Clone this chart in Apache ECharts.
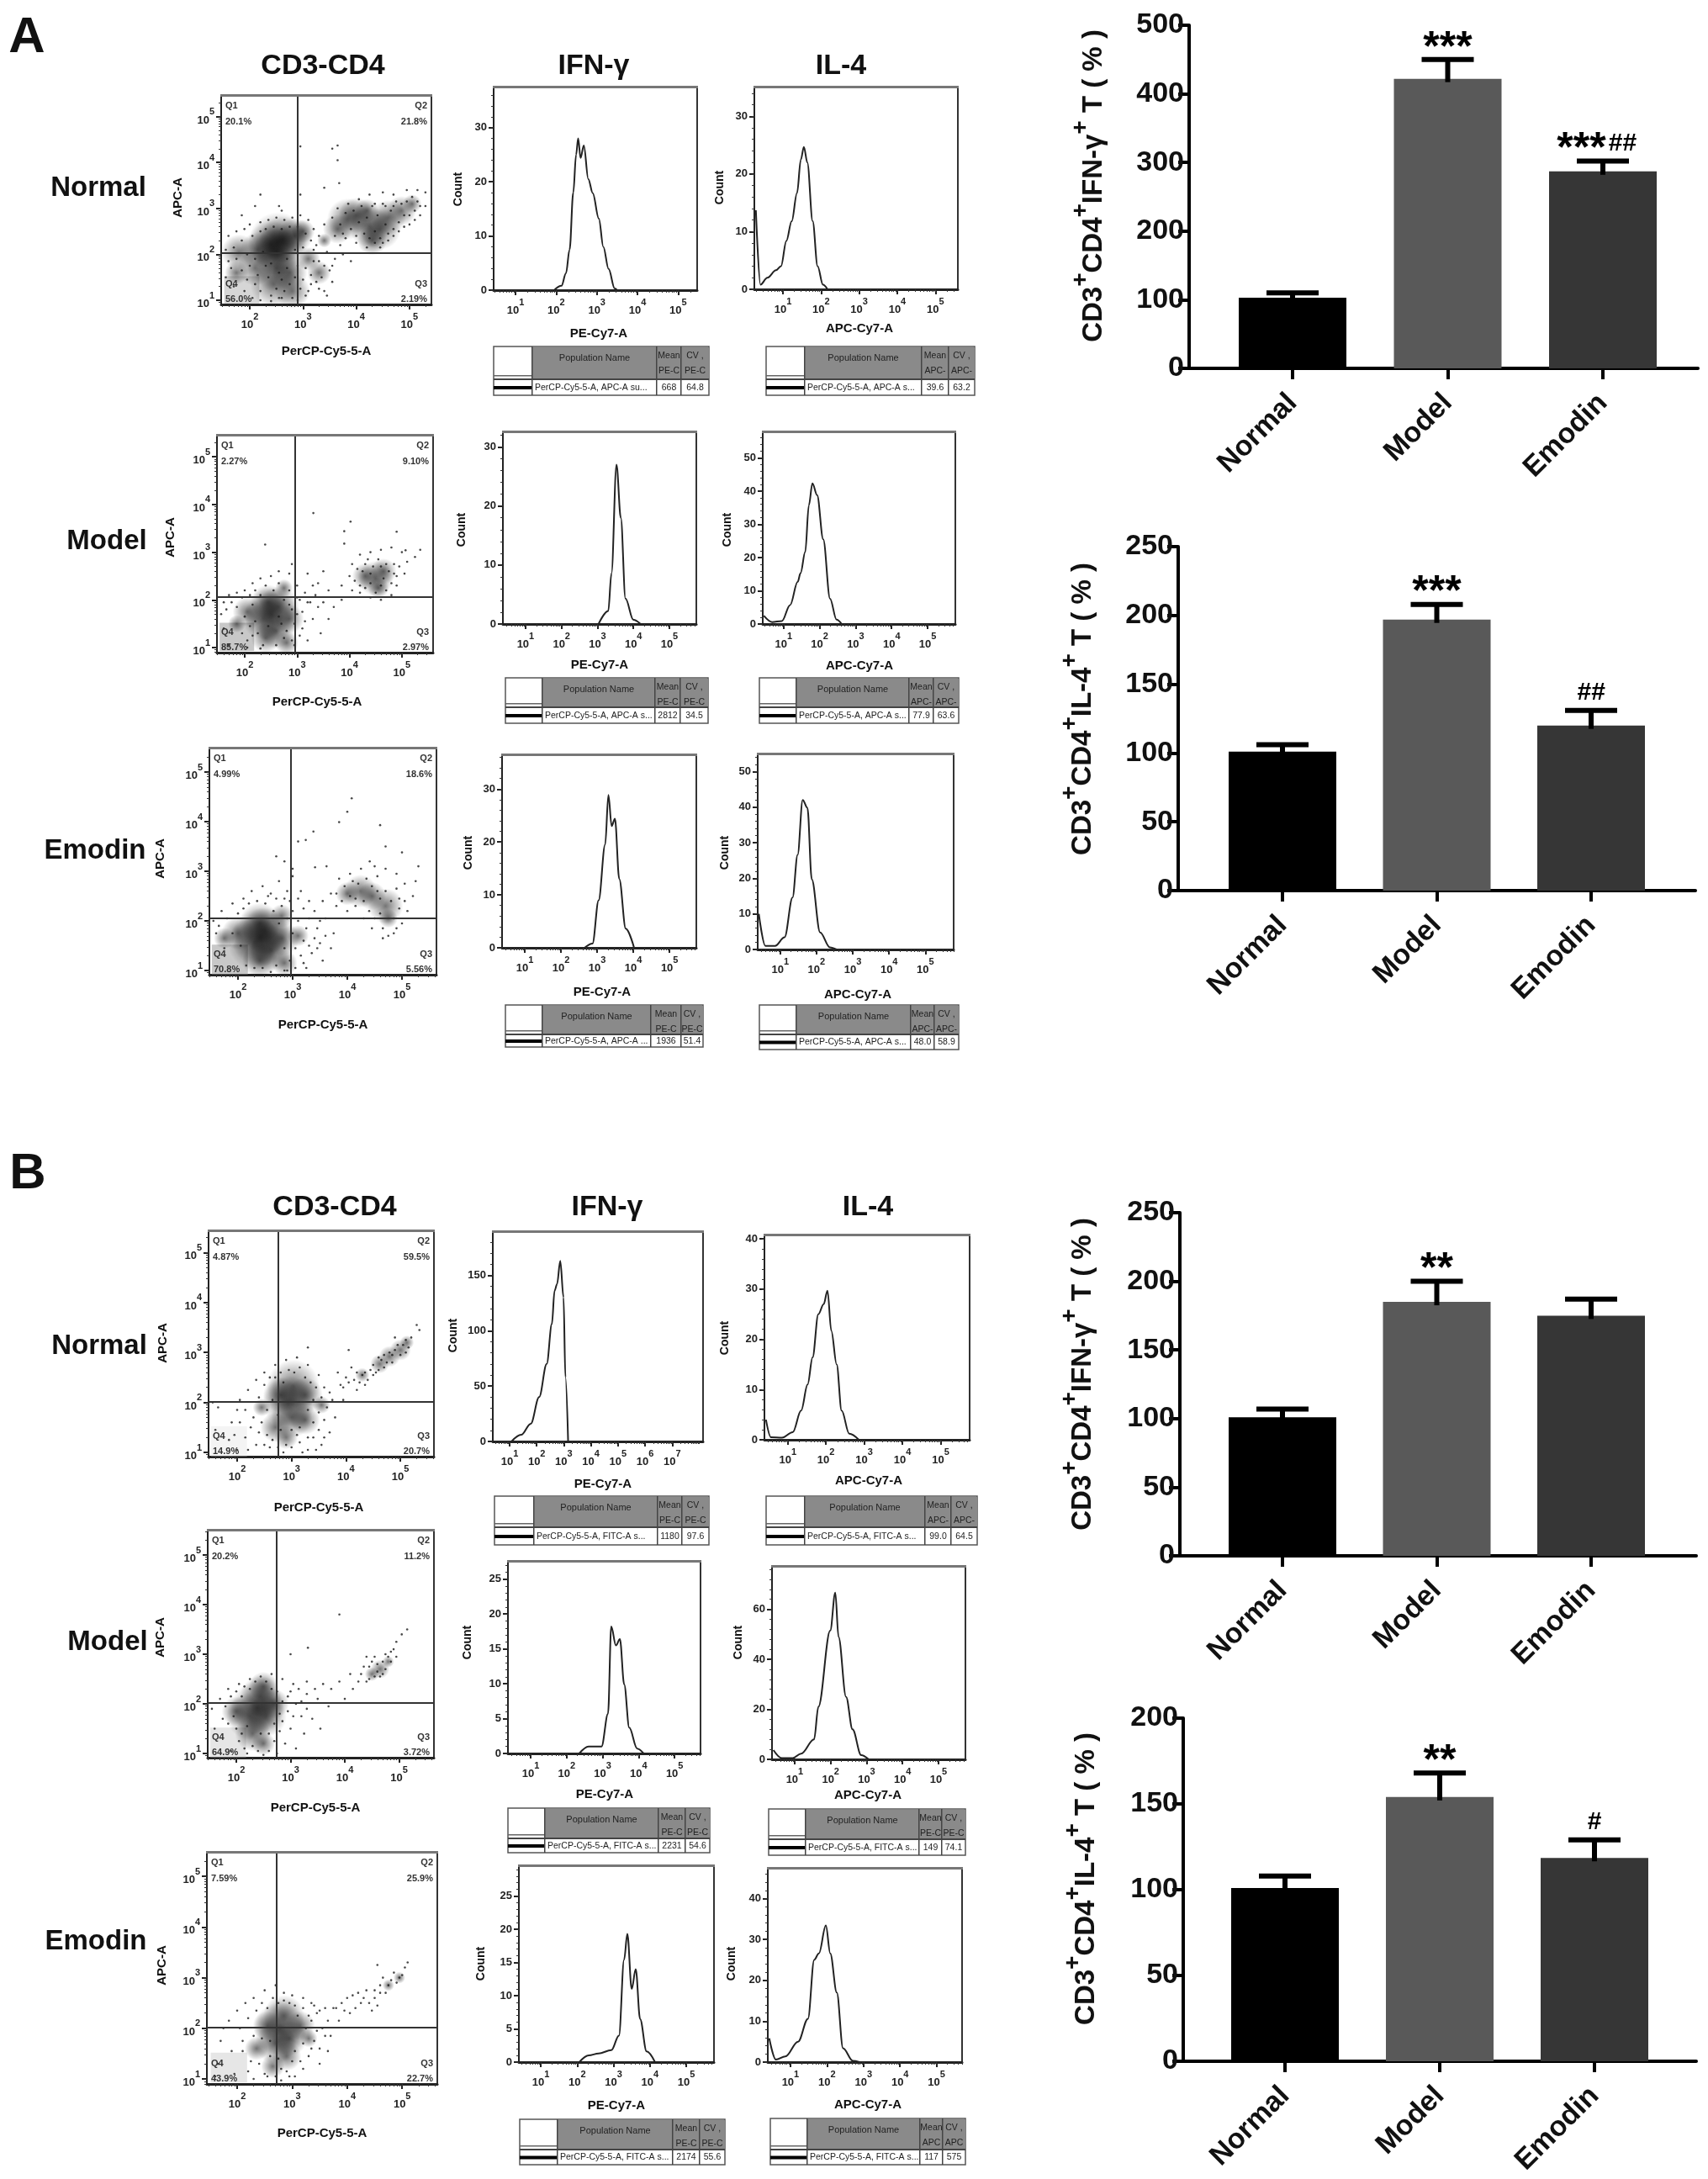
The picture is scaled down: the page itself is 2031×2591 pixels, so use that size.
<!DOCTYPE html>
<html>
<head>
<meta charset="utf-8">
<title>Emodin flow cytometry</title>
<script src="https://cdn.jsdelivr.net/npm/echarts@6/dist/echarts.min.js"></script>
<style>
html, body { margin: 0; padding: 0; background: #fff; }
#main { width: 2031px; height: 2591px; }
#main canvas { filter: blur(.5px); }
</style>
</head>
<body>
<div id="main"></div>
<script>
var FONT = '"Liberation Sans", Arial, sans-serif';

// ---- bar charts ----
var barCats = ['Normal', 'Model', 'Emodin'];
var barColors = ['#000000', '#595959', '#363636'];
var a1Means = [103, 422, 287];
var a1Tops = [110, 450, 302];
var a2Means = [101, 197, 120];
var a2Tops = [106, 208, 131];
var b1Means = [101, 185, 175];
var b1Tops = [107, 200, 187];
var b2Means = [101, 154, 118.5];
var b2Tops = [108, 168, 129];
var a1Stars = ['', '***', '***'];
var a1Hash = ['', '', '##'];
var a2Stars = ['', '***', ''];
var a2Hash = ['', '', '##'];
var b1Stars = ['', '**', ''];
var b1Hash = ['', '', ''];
var b2Stars = ['', '**', ''];
var b2Hash = ['', '', '#'];

// ---- dot plots: x and y in log10 decades ----
// cells = rough density [x, y, weight], dots = single events
var aNormalCells = [[2.53,2.28,5],[2.4,2.22,4],[2.62,2.32,4],[2.5,2.05,4],[2.15,2.1,3],[2.85,2.4,3],[1.8,2.05,3],[2.5,1.7,4],[2.45,1.35,4],[2.75,1.6,3],[2.8,1.2,3],[2.1,1.7,3],[1.75,1.6,2],[3.1,1.9,2],[3.3,1.6,2],[3.0,2.5,2],[3.84,2.77,3.5],[3.65,2.55,2.5],[4.0,2.85,3],[4.25,2.6,3.5],[4.45,2.55,3.5],[4.6,2.8,3],[4.85,2.95,2.5],[5.05,3.1,1.6],[4.2,2.95,2],[4.3,2.3,2.5],[3.4,2.3,1.2]];
var aNormalDots = [[1.6,2.4],[1.75,2.5],[1.9,2.55],[2.0,2.65],[2.2,2.7],[2.35,2.75],[2.5,2.8],[2.65,2.75],[2.8,2.8],[2.95,2.85],[3.1,2.75],[3.2,2.55],[3.3,2.4],[1.55,2.1],[1.6,1.85],[1.55,1.5],[1.7,1.3],[1.9,1.2],[2.05,1.05],[2.2,1.0],[2.4,.98],[2.6,1.05],[2.9,1.0],[3.05,1.1],[3.15,1.35],[3.3,1.25],[3.45,1.1],[3.55,1.4],[3.4,1.75],[3.6,1.9],[3.75,2.0],[3.9,1.85],[3.2,2.1],[3.45,2.05],[2.95,4.35],[3.55,4.3],[3.65,4.37],[3.65,4.05],[3.68,3.55],[3.4,3.45],[2.2,3.3],[2.1,3.05],[1.85,2.85],[2.55,3.05],[2.6,2.95],[2.95,3.3],[3.4,2.65],[3.55,2.8],[3.65,3.0],[3.85,3.1],[4.05,3.2],[4.25,3.3],[4.5,3.35],[4.7,3.3],[4.95,3.4],[5.15,3.4],[5.3,3.35],[5.3,3.05],[5.2,2.85],[5.0,2.65],[4.8,2.5],[4.6,2.3],[4.45,2.15],[4.2,2.15],[4.0,2.25],[3.8,2.35],[3.7,2.2],[4.7,3.05],[4.35,3.1],[4.95,3.15],[4.55,3.05],[5.1,2.95]];
var aNormalFill = [[1.7,2.15],[1.85,2.3],[1.95,2.0],[2.05,2.4],[2.1,1.9],[2.2,2.5],[2.25,2.05],[2.3,2.55],[2.4,1.8],[2.45,2.6],[2.55,1.6],[2.6,2.55],[2.7,1.9],[2.75,2.6],[2.85,2.1],[2.9,2.6],[3.0,2.15],[3.05,2.45],[3.15,2.3],[3.25,2.2],[1.65,1.7],[1.75,1.9],[1.85,1.65],[1.95,1.45],[2.0,1.75],[2.1,1.35],[2.15,1.55],[2.2,1.2],[2.3,1.75],[2.35,1.5],[2.4,1.1],[2.5,1.25],[2.55,1.05],[2.6,1.45],[2.65,1.2],[2.7,1.7],[2.75,1.35],[2.8,1.05],[2.85,1.5],[2.95,1.25],[2.9,1.75],[3.0,1.45],[3.05,1.7],[3.1,1.2],[3.15,1.55],[3.2,1.85],[3.25,1.4],[3.35,1.5],[3.4,1.2],[3.5,1.65],[3.3,1.85],[3.55,1.75],[3.6,2.4],[3.7,2.65],[3.75,2.45],[3.8,2.9],[3.9,2.55],[3.95,2.95],[4.0,2.4],[4.05,2.7],[4.1,3.05],[4.15,2.45],[4.2,2.8],[4.25,2.35],[4.3,3.05],[4.35,2.5],[4.4,2.85],[4.45,2.35],[4.5,3.1],[4.55,2.65],[4.6,2.45],[4.65,2.95],[4.7,2.55],[4.75,3.15],[4.8,2.7],[4.85,3.1],[4.9,2.85],[5.0,2.85],[5.05,3.25],[5.15,3.15],[5.2,3.05],[5.1,2.75],[4.9,2.6],[4.7,2.4],[4.5,2.25],[4.35,2.25]];
var aModelCells = [[2.5,1.7,4.5],[2.35,1.6,3.5],[2.65,1.85,3.5],[2.45,1.95,3],[2.6,1.35,3],[2.4,1.2,2.5],[2.85,1.6,2.5],[2.05,1.75,2.5],[1.85,1.5,1.5],[2.8,1.1,2],[2.75,2.25,1.5],[4.5,2.45,3],[4.3,2.5,2.2],[4.65,2.6,2.2],[4.55,2.25,1.8]];
var aModelDots = [[1.6,1.95],[1.7,2.1],[1.85,2.15],[2.0,2.2],[2.15,2.35],[2.3,2.45],[2.5,2.5],[2.65,2.6],[2.85,2.55],[2.9,2.75],[3.0,2.3],[3.15,2.15],[3.25,1.95],[3.4,1.85],[3.3,1.6],[3.1,1.4],[3.2,1.15],[3.45,1.3],[3.6,1.6],[3.7,1.85],[3.85,2.0],[3.6,2.2],[3.4,2.35],[3.5,2.6],[3.2,2.55],[1.55,1.7],[1.6,1.4],[1.7,1.05],[2.05,1.0],[2.3,.98],[2.95,1.05],[3.0,1.7],[3.05,2.0],[3.31,3.82],[4.02,3.64],[3.9,3.44],[3.9,3.18],[4.9,3.43],[2.39,3.16],[5.07,3.04],[3.85,2.3],[4.0,2.5],[4.05,2.75],[4.2,2.95],[4.4,3.0],[4.6,3.05],[4.8,3.1],[5.0,3.0],[5.1,2.8],[5.05,2.55],[4.9,2.3],[4.8,2.1],[4.6,2.0],[4.4,2.05],[4.2,2.15],[4.05,2.2],[4.7,2.75],[4.85,2.55],[4.3,2.75],[5.25,2.9],[5.35,3.05]];
var aModelFill = [[1.65,1.8],[1.75,1.95],[1.85,1.85],[1.95,2.05],[2.0,1.65],[2.1,2.1],[2.15,1.9],[2.2,2.2],[2.25,1.3],[2.3,2.1],[2.35,1.05],[2.4,2.3],[2.45,1.45],[2.55,2.2],[2.6,1.05],[2.65,2.35],[2.7,1.5],[2.75,2.0],[2.8,1.35],[2.85,2.2],[2.9,1.8],[2.95,1.5],[3.0,2.05],[3.05,1.25],[3.1,1.75],[3.15,1.55],[3.2,1.95],[2.75,1.2],[2.9,1.15],[2.65,1.65],[2.85,1.9],[3.35,2.1],[3.5,1.95],[3.3,2.3],[2.2,1.55],[2.1,1.45],[1.95,1.3],[2.05,1.15],[2.15,1.25],[4.1,2.4],[4.15,2.65],[4.2,2.3],[4.25,2.6],[4.3,2.25],[4.35,2.85],[4.4,2.35],[4.45,2.7],[4.5,2.15],[4.55,2.85],[4.6,2.3],[4.65,2.45],[4.7,2.2],[4.75,2.6],[4.8,2.35],[4.85,2.75],[4.9,2.5],[4.95,2.7],[4.6,2.7],[4.4,2.55]];
var aEmodinCells = [[2.41,1.67,5],[2.3,1.55,4.5],[2.5,1.8,4],[2.4,1.95,3.5],[2.6,1.4,3.5],[2.4,1.2,3],[2.8,1.65,3],[2.0,1.75,2.8],[1.75,1.65,1.8],[2.85,1.15,2.2],[2.8,2.1,2],[3.1,1.7,1.8],[4.24,2.6,2.8],[4.0,2.55,2],[4.45,2.5,2.4],[4.7,2.3,3],[4.75,2.05,1.6]];
var aEmodinDots = [[1.55,2.0],[1.6,1.75],[1.7,2.2],[1.9,2.35],[2.1,2.45],[2.25,2.6],[2.45,2.7],[2.6,2.55],[2.75,2.8],[2.9,2.6],[3.0,2.9],[3.1,2.45],[3.2,2.25],[3.3,2.05],[3.45,1.85],[3.5,1.55],[3.35,1.35],[3.2,1.15],[3.05,1.05],[2.85,1.0],[2.6,.97],[3.55,1.2],[3.7,1.45],[3.75,1.75],[3.6,2.05],[3.4,2.2],[3.55,2.4],[3.0,3.05],[2.7,3.3],[2.85,3.2],[3.1,3.6],[3.38,3.8],[3.85,3.99],[4.0,4.2],[4.08,4.47],[3.24,3.63],[4.6,3.93],[4.7,3.5],[3.62,3.1],[5.0,3.38],[5.3,3.1],[3.41,3.08],[4.41,3.2],[3.7,2.55],[3.85,2.85],[4.05,2.95],[4.25,3.05],[4.5,3.1],[4.7,3.05],[4.9,2.95],[5.05,2.75],[5.2,2.5],[5.1,2.2],[5.0,1.95],[4.85,1.75],[4.65,1.65],[4.45,1.85],[4.3,2.05],[4.0,2.2],[3.8,2.3],[4.55,2.9],[4.95,2.45],[4.15,2.3],[5.25,2.8]];
var aEmodinFill = [[1.65,1.9],[1.75,1.45],[1.8,2.05],[1.9,1.75],[2.0,2.15],[2.05,1.5],[2.1,2.25],[2.15,1.1],[2.2,2.35],[2.3,1.05],[2.35,2.4],[2.45,1.05],[2.5,2.35],[2.55,2.5],[2.65,2.2],[2.7,2.45],[2.75,1.95],[2.8,2.3],[2.85,1.45],[2.9,2.05],[2.95,1.2],[3.0,2.2],[3.0,1.75],[3.05,1.45],[3.1,2.0],[3.15,1.3],[3.2,1.6],[3.25,1.85],[3.3,1.5],[2.85,2.45],[2.7,1.1],[2.9,1.0],[3.4,1.65],[3.5,2.0],[3.15,2.6],[3.3,2.4],[2.95,2.4],[3.6,1.7],[3.45,1.45],[3.25,1.05],[3.8,2.55],[3.9,2.4],[3.95,2.7],[4.05,2.5],[4.1,2.8],[4.15,2.45],[4.2,2.75],[4.3,2.4],[4.35,2.85],[4.4,2.2],[4.45,2.7],[4.5,2.05],[4.55,2.6],[4.6,2.15],[4.6,2.45],[4.65,1.85],[4.7,2.6],[4.75,1.7],[4.8,2.4],[4.85,2.05],[4.9,2.65],[4.9,1.85],[4.95,2.25],[5.05,2.4]];
var bNormalCells = [[3.03,2.33,4.5],[2.95,2.0,4.5],[3.0,1.7,3.5],[2.8,2.15,3],[3.25,2.15,3],[2.7,1.5,2.5],[3.25,1.65,2.5],[2.9,1.3,2],[3.55,1.95,1.5],[2.45,1.9,1.5],[4.62,2.77,1.6],[4.8,2.92,1.8],[5.0,3.05,1.8],[5.12,3.2,1.2],[4.3,2.55,1.2]];
var bNormalDots = [[1.9,1.6],[1.85,1.25],[2.0,1.05],[2.2,1.05],[2.35,1.15],[2.25,1.5],[2.15,1.85],[2.05,2.05],[2.2,2.25],[2.35,2.45],[2.5,2.6],[2.7,2.75],[2.9,2.85],[3.1,2.9],[3.3,2.75],[3.5,2.55],[3.6,2.3],[3.75,2.05],[3.8,1.7],[3.7,1.4],[3.55,1.15],[3.4,1.3],[3.3,1.05],[3.15,1.2],[2.85,1.0],[2.6,1.1],[2.55,1.35],[1.65,1.9],[1.55,2.0],[1.6,1.45],[3.9,2.35],[4.0,2.5],[3.85,2.6],[4.15,2.45],[4.1,2.7],[4.3,2.55],[4.2,2.25],[4.45,2.65],[3.95,2.05],[3.3,3.1],[4.9,3.3],[5.35,3.45],[5.3,3.55],[4.05,3.05],[4.5,2.75],[4.6,2.9],[4.7,2.7],[4.8,3.0],[4.95,3.15],[4.85,2.8],[5.1,3.0],[5.2,3.3]];
var bNormalFill = [[2.3,1.7],[2.4,2.1],[2.45,1.6],[2.5,2.35],[2.5,1.15],[2.55,1.85],[2.6,2.5],[2.65,1.25],[2.65,2.05],[2.7,2.5],[2.75,1.1],[2.75,1.75],[2.8,2.6],[2.8,1.45],[2.85,2.4],[2.9,1.15],[2.95,2.65],[3.0,1.1],[3.0,1.45],[3.05,2.6],[3.1,1.35],[3.15,2.7],[3.15,1.5],[3.2,1.0],[3.25,2.5],[3.3,1.3],[3.3,1.85],[3.35,2.4],[3.4,1.6],[3.4,2.05],[3.45,2.3],[3.5,1.45],[3.5,1.8],[3.55,2.1],[3.6,1.65],[3.65,1.9],[3.7,2.2],[3.45,1.05],[3.6,1.3],[2.4,1.4],[2.15,1.3],[2.05,1.6],[2.0,1.85],[1.95,1.35],[4.25,2.4],[4.35,2.35],[4.4,2.45],[4.5,2.55],[4.55,2.6],[4.6,2.65],[4.65,2.85],[4.7,2.95],[4.75,2.8],[4.85,2.95],[4.9,3.05],[5.0,2.95],[5.05,3.15],[5.15,3.1],[5.1,3.25],[4.35,2.6],[4.2,2.6],[4.05,2.4],[3.95,2.3]];
var bModelCells = [[2.39,1.92,4.5],[2.45,2.15,3.5],[2.25,1.75,4],[2.55,1.75,3.5],[2.5,2.35,2.5],[2.3,1.4,3],[2.5,1.2,2],[2.0,1.85,2.5],[2.7,2.0,2.5],[4.65,2.7,1.6],[4.5,2.6,1.2],[4.8,2.85,1]];
var bModelDots = [[1.55,1.9],[1.6,1.5],[1.7,2.1],[1.85,2.3],[2.05,2.4],[2.25,2.5],[2.45,2.55],[2.65,2.6],[2.85,2.5],[3.0,2.25],[3.1,2.0],[3.2,1.75],[3.0,1.5],[2.9,1.2],[2.75,1.0],[2.5,.97],[2.2,1.0],[1.9,1.05],[3.3,2.2],[3.5,2.1],[3.7,1.95],[3.4,1.7],[3.6,2.4],[3.75,2.3],[3.9,2.45],[4.0,2.1],[3.25,1.4],[3.55,1.5],[3.1,1.1],[2.0,1.5],[4.1,2.6],[4.25,2.45],[4.35,2.75],[4.45,2.5],[4.55,2.95],[4.75,3.0],[4.85,2.85],[4.95,3.25],[5.05,3.4],[5.15,3.5],[4.4,2.95],[3.9,3.8],[3.32,3.13],[3.0,3.0]];
var bModelFill = [[1.75,1.7],[1.8,1.95],[1.85,1.6],[1.9,2.15],[1.95,1.75],[2.0,2.25],[2.05,1.25],[2.1,2.15],[2.1,1.4],[2.15,2.35],[2.15,1.1],[2.2,1.55],[2.25,2.3],[2.3,1.15],[2.35,2.45],[2.4,1.05],[2.45,1.4],[2.55,2.45],[2.6,1.4],[2.6,1.05],[2.65,2.3],[2.7,1.6],[2.7,1.25],[2.75,2.25],[2.8,1.8],[2.8,1.45],[2.85,2.05],[2.85,1.65],[2.95,1.85],[2.95,2.15],[3.05,1.75],[3.15,2.3],[3.2,2.05],[3.3,1.9],[3.45,2.3],[3.3,2.45],[3.05,2.4],[4.15,2.3],[4.3,2.6],[4.4,2.45],[4.45,2.75],[4.5,2.85],[4.55,2.55],[4.6,2.8],[4.65,2.55],[4.7,2.85],[4.75,2.7],[4.8,2.95],[4.85,3.05],[4.9,3.1],[4.95,2.95],[4.6,2.65],[4.7,2.6]];
var bEmodinCells = [[2.78,1.99,4.5],[2.85,2.25,3.5],[2.7,1.7,3.5],[2.95,1.8,3],[2.55,2.05,2.5],[2.9,1.45,2.5],[2.65,1.25,2],[3.15,2.05,2.5],[2.35,1.6,2],[3.3,1.8,1.5],[4.75,2.85,1],[4.95,3,1]];
var bEmodinDots = [[1.7,1.75],[1.75,2.0],[1.85,2.15],[1.9,1.55],[1.65,1.3],[1.6,1.05],[1.95,1.1],[2.0,2.35],[2.15,2.5],[2.3,2.6],[2.5,2.75],[2.7,2.85],[2.85,2.7],[3.0,2.65],[3.2,2.6],[3.35,2.5],[3.5,2.35],[3.65,2.15],[3.7,1.85],[3.65,1.55],[3.5,1.3],[3.35,1.6],[3.2,1.2],[3.05,1.05],[2.8,.97],[2.55,1.05],[2.3,1.0],[2.25,1.35],[2.1,1.75],[3.45,1.95],[3.3,2.25],[3.75,2.4],[3.9,2.5],[4.05,2.3],[4.1,2.65],[4.25,2.5],[4.35,2.75],[4.5,2.6],[4.45,2.35],[3.85,2.15],[4.6,2.85],[4.7,2.7],[4.8,2.95],[4.85,3.1],[4.95,3.0],[5.05,3.2],[5.1,3.3],[4.55,3.25]];
var bEmodinFill = [[2.05,2.0],[2.1,1.55],[2.2,2.2],[2.2,1.15],[2.3,1.85],[2.35,2.35],[2.4,1.3],[2.45,2.5],[2.45,1.8],[2.5,1.1],[2.55,2.4],[2.6,1.45],[2.65,2.6],[2.6,1.75],[2.7,1.05],[2.75,2.5],[2.75,1.4],[2.8,1.2],[2.85,2.55],[2.9,1.15],[2.95,2.5],[2.95,1.05],[3.0,1.35],[3.05,2.45],[3.05,1.55],[3.1,2.25],[3.15,1.35],[3.2,1.7],[3.2,2.4],[3.25,2.0],[3.3,1.45],[3.35,2.15],[3.4,1.75],[3.45,2.3],[3.5,1.6],[3.55,2.0],[3.6,1.85],[3.4,2.45],[3.6,2.4],[3.8,2.4],[3.95,2.35],[4.0,2.6],[4.15,2.4],[4.2,2.7],[4.3,2.6],[4.4,2.5],[4.5,2.75],[4.55,2.45],[4.6,2.7],[4.65,3.0],[4.75,2.85],[4.9,2.9],[5.0,3.05]];
var aNormalQuad = ['20.1%', '21.8%', '56.0%', '2.19%'];
var aModelQuad = ['2.27%', '9.10%', '85.7%', '2.97%'];
var aEmodinQuad = ['4.99%', '18.6%', '70.8%', '5.56%'];
var bNormalQuad = ['4.87%', '59.5%', '14.9%', '20.7%'];
var bModelQuad = ['20.2%', '11.2%', '64.9%', '3.72%'];
var bEmodinQuad = ['7.59%', '25.9%', '43.9%', '22.7%'];
// light grey corner of the Q4 gate, [xStart, xEnd, yStart, yEnd] in decades
var q4Patch = [1.52, 2.18, .93, 1.52];

// ---- histograms: [log10 signal, count] ----
var aNormalIfn = [[1.95,0],[2.13,.8],[2.24,3.1],[2.33,7.5],[2.42,18],[2.49,25],[2.54,28],[2.60,24.4],[2.68,26.7],[2.79,20.5],[2.90,17.9],[3.05,13.2],[3.16,8],[3.29,3.9],[3.44,.3],[3.5,0]];
var aNormalIl = [[.29,13.7],[.41,.8],[.59,2],[.82,3.3],[.95,4],[1.09,8.4],[1.23,11.8],[1.37,16.7],[1.47,22.5],[1.55,24.7],[1.64,22],[1.78,11.8],[1.91,4],[2.05,.8],[2.17,0]];
var aModelIfn = [[3.03,0],[3.3,2.2],[3.39,8.6],[3.53,27],[3.65,18],[3.78,4.3],[4,.7],[4.2,0]];
var aModelIl = [[.45,2.5],[.68,.6],[.95,.9],[1.18,5.7],[1.39,12.7],[1.47,15.3],[1.6,21.7],[1.7,35.7],[1.8,42.3],[1.93,38.8],[2.1,25.5],[2.29,7.6],[2.47,1.3],[2.6,.2]];
var aEmodinIfn = [[2.65,0],[2.87,.8],[3.04,9],[3.22,19.5],[3.31,28.9],[3.4,23],[3.49,24.4],[3.61,13],[3.79,3.6],[4.02,0]];
var aEmodinIl = [[.41,10],[.59,1],[.86,1],[1.12,3.4],[1.34,14.6],[1.48,26.6],[1.62,42],[1.75,39.8],[1.87,19.7],[2.1,4.8],[2.37,.6],[2.55,0]];
var bNormalIfn = [[1.07,0],[1.43,6],[1.78,16],[2.09,40],[2.37,70],[2.56,106],[2.66,136],[2.75,142],[2.87,163],[2.99,130],[3.06,58],[3.16,0]];
var bNormalIl = [[.43,4],[.56,.5],[.85,.4],[1.13,1.5],[1.35,5.8],[1.52,11],[1.65,16.4],[1.8,25],[1.94,27],[2.04,29.7],[2.14,21.7],[2.28,15],[2.41,5.8],[2.61,1.2],[2.86,0]];
var bModelIfn = [[2.35,0],[2.61,1],[2.97,1],[3.15,5.7],[3.24,18.2],[3.37,15.5],[3.48,16.4],[3.6,9.9],[3.74,3.7],[3.96,.7],[4.14,0]];
var bModelIl = [[.41,3.7],[.64,.5],[.95,.5],[1.18,2.3],[1.54,8],[1.66,21],[1.99,51.5],[2.13,66.7],[2.22,49],[2.43,25],[2.61,12],[2.85,1.7],[3.06,0]];
var bEmodinIfn = [[2.06,0],[2.32,1],[2.59,1.3],[2.94,1.8],[3.15,4],[3.29,15.4],[3.38,19.3],[3.5,11],[3.61,14],[3.73,6.5],[3.91,1.6],[4.14,0]];
var bEmodinIl = [[.42,5.8],[.6,.6],[.86,1.4],[1.21,5],[1.48,10.6],[1.65,25],[1.78,26.6],[1.97,33.4],[2.09,26.6],[2.27,17],[2.44,3.4],[2.71,.3],[2.89,0]];

var grids = [], xAxes = [], yAxes = [], series = [], gfx = [];

function text(x, y, str, size, opt) {
    opt = opt || {};
    return {
        type : 'text',
        x : x,
        y : y,
        rotation : opt.rotation || 0,
        silent : true,
        z : 20,
        style : {
            text : str,
            fontFamily : FONT,
            fontSize : size,
            fontWeight : opt.weight || 'bold',
            fill : opt.fill || '#111',
            align : opt.align || 'center',
            verticalAlign : 'middle',
            rich : opt.rich
        }
    };
}

function rect(x, y, w, h, fill, stroke) {
    return {
        type : 'rect',
        silent : true,
        z : 15,
        shape : { x : x, y : y, width : w, height : h },
        style : { fill : fill, stroke : stroke || null, lineWidth : stroke ? 1.5 : 0 }
    };
}

function logTicks(min, max) {
    var out = [];
    for (var n = Math.floor(min); n <= Math.ceil(max); n++) {
        for (var k = 1; k < 10; k++) {
            var v = n + Math.log10(k);
            if (v > min && v < max)
                out.push(v);
        }
    }
    return out;
}

function stepTicks(step, max) {
    var out = [];
    for (var v = 0; v <= max; v += step)
        out.push(v);
    return out;
}

var supRich = {
    b : { fontFamily : FONT, fontSize : 13, fontWeight : 'bold', color : '#222', lineHeight : 22, verticalAlign : 'bottom' },
    s : { fontFamily : FONT, fontSize : 11, fontWeight : 'bold', color : '#222', lineHeight : 22, verticalAlign : 'top' }
};

function powerLabel(value) {
    return '{b|10}{s|' + value + '}';
}

// one grid with a tick-only axis underneath the labelled one
function addAxes(box, xMin, xMax, yMin, yMax, xMajor, xMinor, yMajor, yMinor, yLabel) {
    var g = grids.length;
    grids.push({
        left : box.l, top : box.t, width : box.r - box.l, height : box.b - box.t,
        show : true, borderColor : '#333', borderWidth : 2, backgroundColor : '#fff'
    });
    var xi = xAxes.length, yi = yAxes.length;
    xAxes.push({
        type : 'value', gridIndex : g, position : 'bottom', min : xMin, max : xMax,
        splitLine : { show : false },
        axisLine : { onZero : false, lineStyle : { color : '#222', width : 3 } },
        axisTick : { customValues : xMajor, length : 6, lineStyle : { color : '#222', width : 2 } },
        axisLabel : { customValues : xMajor, margin : 9, formatter : powerLabel, rich : supRich }
    });
    xAxes.push({
        type : 'value', gridIndex : g, position : 'bottom', min : xMin, max : xMax,
        splitLine : { show : false }, axisLine : { show : false, onZero : false },
        axisTick : { customValues : xMinor, length : 3, lineStyle : { color : '#333', width : 1 } },
        axisLabel : { show : false }
    });
    yAxes.push({
        type : 'value', gridIndex : g, position : 'left', min : yMin, max : yMax,
        splitLine : { show : false },
        axisLine : { onZero : false, lineStyle : { color : '#222', width : 2 } },
        axisTick : { customValues : yMajor, length : 6, lineStyle : { color : '#222', width : 2 } },
        axisLabel : { customValues : yMajor, margin : 8, formatter : yLabel, rich : supRich,
            fontFamily : FONT, fontSize : 13, fontWeight : 'bold', color : '#222' }
    });
    yAxes.push({
        type : 'value', gridIndex : g, position : 'left', min : yMin, max : yMax,
        splitLine : { show : false }, axisLine : { show : false, onZero : false },
        axisTick : { customValues : yMinor, length : 3, lineStyle : { color : '#333', width : 1 } },
        axisLabel : { show : false }
    });
    // the instrument plots have a heavier grey top edge
    gfx.push(rect(box.l - 1, box.t - 2, box.r - box.l + 2, 3, '#777'));
    return { x : xi, y : yi };
}

function addDotPlot(p) {
    var xMin = 2 - (p.x2 - p.l) / p.dx, xMax = 2 + (p.r - p.x2) / p.dx;
    var yMin = 1 - (p.b - p.y1) / p.dy, yMax = 1 + (p.y1 - p.t) / p.dy;
    var ax = addAxes(p, xMin, xMax, yMin, yMax, [2, 3, 4, 5], logTicks(xMin, xMax), [1, 2, 3, 4, 5], logTicks(yMin, yMax), powerLabel);
    series.push({
        type : 'scatter',
        xAxisIndex : ax.x,
        yAxisIndex : ax.y,
        data : p.cells,
        symbol : 'circle',
        symbolSize : function(d) { return d[2] * 14; },
        itemStyle : {
            color : new echarts.graphic.RadialGradient(.5, .5, .5, [
                { offset : 0, color : 'rgba(0,0,0,0.68)' },
                { offset : 1, color : 'rgba(0,0,0,0)' }
            ])
        },
        silent : true,
        markArea : {
            silent : true,
            label : { show : false },
            itemStyle : { color : p.patchColor },
            data : [ [ { xAxis : q4Patch[0], yAxis : q4Patch[2] }, { xAxis : q4Patch[1], yAxis : q4Patch[3] } ] ]
        },
        markLine : {
            silent : true,
            symbol : 'none',
            label : { show : false },
            animation : false,
            lineStyle : { color : '#333', width : 2, type : 'solid' },
            data : [ { xAxis : p.gateX }, { yAxis : p.gateY } ]
        }
    });
    series.push({
        type : 'scatter',
        xAxisIndex : ax.x,
        yAxisIndex : ax.y,
        data : p.dots.concat(p.fill),
        symbolSize : 2.6,
        itemStyle : { color : '#1a1a1a', opacity : .8 },
        silent : true
    });
    var qr = { weight : 'bold', fill : '#333', align : 'right' };
    var ql = { weight : 'bold', fill : '#333', align : 'left' };
    gfx.push(text(p.l + 5, p.t + 12, 'Q1', 11, ql));
    gfx.push(text(p.l + 5, p.t + 31, p.quad[0], 11, ql));
    gfx.push(text(p.r - 5, p.t + 12, 'Q2', 11, qr));
    gfx.push(text(p.r - 5, p.t + 31, p.quad[1], 11, qr));
    gfx.push(text(p.l + 5, p.b - 24, 'Q4', 11, ql));
    gfx.push(text(p.l + 5, p.b - 6, p.quad[2], 11, ql));
    gfx.push(text(p.r - 5, p.b - 24, 'Q3', 11, qr));
    gfx.push(text(p.r - 5, p.b - 6, p.quad[3], 11, qr));
    gfx.push(text(p.nx, p.ny, 'PerCP-Cy5-5-A', 15));
    gfx.push(text(p.ax, p.ay, 'APC-A', 15, { rotation : Math.PI / 2 }));
}

function addHist(p) {
    var xs = [];
    for (var d = p.firstDecade; d <= p.lastDecade; d++)
        xs.push(d);
    var ax = addAxes(p, p.xMin, p.xMax, 0, p.yMax, xs, logTicks(p.xMin, p.xMax),
        stepTicks(p.yStep, p.yMax), stepTicks(p.yStep / 5, p.yMax));
    series.push({
        type : 'line',
        xAxisIndex : ax.x,
        yAxisIndex : ax.y,
        data : p.data,
        showSymbol : false,
        smooth : .35,
        smoothMonotone : 'x',
        silent : true,
        lineStyle : { color : '#222', width : 2 }
    });
    gfx.push(text(p.nx, p.ny, p.xName, 15));
    gfx.push(text(p.cx, p.cy, 'Count', 14, { rotation : Math.PI / 2 }));
}

// FlowJo stat table below each histogram
function addTable(t) {
    var rowH = t.b - t.hb;
    gfx.push(rect(t.l, t.t, t.r - t.l, t.b - t.t, '#fff', '#555'));
    gfx.push(rect(t.c1, t.t + 1, t.r - t.c1, t.hb - t.t, '#8a8a8a'));
    gfx.push(rect(t.l, t.hb, t.r - t.l, 2, '#444'));
    gfx.push(rect(t.l, t.hb - 4, t.c1 - t.l, 1.5, '#666'));
    gfx.push(rect(t.l, t.hb + rowH / 2 - 1, t.c1 - t.l, 4, '#000'));
    gfx.push(rect(t.c1 - 1, t.t, 1.5, t.b - t.t, '#444'));
    gfx.push(rect(t.c2 - 1, t.t, 1.5, t.b - t.t, '#444'));
    gfx.push(rect(t.c3 - 1, t.t, 1.5, t.b - t.t, '#444'));
    var small = { weight : 'normal', fill : '#222' };
    gfx.push(text((t.c1 + t.c2) / 2, t.t + 14, 'Population Name', 11, small));
    gfx.push(text((t.c2 + t.c3) / 2, t.t + 11, 'Mean', 10.5, small));
    gfx.push(text((t.c2 + t.c3) / 2, t.t + 29, t.head, 10.5, small));
    gfx.push(text((t.c3 + t.r) / 2, t.t + 11, 'CV ,', 10.5, small));
    gfx.push(text((t.c3 + t.r) / 2, t.t + 29, t.head, 10.5, small));
    gfx.push(text(t.c1 + 3, t.hb + rowH / 2 + 1, t.name, 10.5, { weight : 'normal', fill : '#222', align : 'left' }));
    gfx.push(text((t.c2 + t.c3) / 2, t.hb + rowH / 2 + 1, t.mean, 10.5, small));
    gfx.push(text((t.c3 + t.r) / 2, t.hb + rowH / 2 + 1, t.cv, 10.5, small));
}

function addBarChart(c) {
    var g = grids.length;
    grids.push({ left : c.axisL, top : c.top, width : c.axisR - c.axisL, height : c.zero - c.top });
    var xi = xAxes.length, yi = yAxes.length;
    xAxes.push({
        type : 'value', gridIndex : g, min : (c.axisL - c.c0) / c.step, max : (c.axisR - c.c0) / c.step,
        splitLine : { show : false },
        axisLine : { onZero : false, lineStyle : { color : '#000', width : 4 } },
        axisTick : { customValues : [0, 1, 2], length : 13, lineStyle : { color : '#000', width : 4 } },
        axisLabel : {
            customValues : [0, 1, 2], rotate : 45, margin : 36,
            fontFamily : FONT, fontSize : 34, fontWeight : 'bold', color : '#111',
            formatter : function(v) { return barCats[v]; }
        }
    });
    yAxes.push({
        type : 'value', gridIndex : g, min : 0, max : c.max, interval : c.interval,
        splitLine : { show : false },
        axisLine : { onZero : false, lineStyle : { color : '#000', width : 4 } },
        axisTick : { length : 13, lineStyle : { color : '#000', width : 4 } },
        axisLabel : { margin : 6, fontFamily : FONT, fontSize : 34, fontWeight : 'bold', color : '#111' }
    });
    series.push({
        type : 'bar',
        xAxisIndex : xi,
        yAxisIndex : yi,
        barWidth : 128,
        silent : true,
        data : c.means.map(function(m, i) {
            return { value : [i, m], itemStyle : { color : barColors[i] } };
        })
    });
    series.push({
        type : 'custom',
        xAxisIndex : xi,
        yAxisIndex : yi,
        silent : true,
        clip : false,
        z : 5,
        data : c.means.map(function(m, i) { return [i, m, c.tops[i]]; }),
        renderItem : function(params, api) {
            var i = api.value(0);
            var cap = api.coord([i, api.value(2)]);
            var base = api.coord([i, api.value(1)]);
            var children = [
                { type : 'rect', shape : { x : cap[0] - 3, y : cap[1], width : 6, height : base[1] - cap[1] + 4 }, style : { fill : '#000' } },
                { type : 'rect', shape : { x : cap[0] - 31, y : cap[1] - 3, width : 62, height : 6 }, style : { fill : '#000' } }
            ];
            var stars = c.stars[i], hash = c.hash[i];
            var sw = stars.length * 19.5, hw = hash.length * 16.5;
            var left = cap[0] - (sw + hw) / 2 - (stars && hash ? 9 : 0);
            if (stars)
                children.push({ type : 'text', style : { text : stars, x : left, y : cap[1] - 13, align : 'left', verticalAlign : 'middle', fill : '#000', font : 'bold 50px ' + FONT } });
            if (hash)
                children.push({ type : 'text', style : { text : hash, x : left + sw + (stars ? 3 : 0), y : cap[1] - 21, align : 'left', verticalAlign : 'middle', fill : '#000', font : 'bold 30px ' + FONT } });
            return { type : 'group', children : children };
        }
    });
    var titleRich = {
        n : { fontFamily : FONT, fontSize : c.titleSize, fontWeight : 'bold', color : '#111', lineHeight : 46, verticalAlign : 'bottom' },
        p : { fontFamily : FONT, fontSize : c.titleSize - 5, fontWeight : 'bold', color : '#111', lineHeight : 46, verticalAlign : 'top' }
    };
    gfx.push(text(c.titleX, c.titleY, c.title, c.titleSize, { rotation : Math.PI / 2, rich : titleRich }));
}

// ---- panel layout ----
addBarChart({ axisL : 1414, axisR : 2019, c0 : 1537, step : 184.5, top : 30, zero : 438, max : 500, interval : 100,
    means : a1Means, tops : a1Tops, stars : a1Stars, hash : a1Hash, titleSize : 33, titleX : 1294, titleY : 221,
    title : '{n|CD3}{p|+}{n|CD4}{p|+}{n|IFN-γ}{p|+}{n| T ( % )}' });
addBarChart({ axisL : 1401, axisR : 2016, c0 : 1525, step : 183.5, top : 650, zero : 1059, max : 250, interval : 50,
    means : a2Means, tops : a2Tops, stars : a2Stars, hash : a2Hash, titleSize : 33, titleX : 1281, titleY : 843,
    title : '{n|CD3}{p|+}{n|CD4}{p|+}{n|IL-4}{p|+}{n| T ( % )}' });
addBarChart({ axisL : 1403, axisR : 2017, c0 : 1525, step : 183.5, top : 1442, zero : 1850, max : 250, interval : 50,
    means : b1Means, tops : b1Tops, stars : b1Stars, hash : b1Hash, titleSize : 33, titleX : 1281, titleY : 1634,
    title : '{n|CD3}{p|+}{n|CD4}{p|+}{n|IFN-γ}{p|+}{n| T ( % )}' });
addBarChart({ axisL : 1407, axisR : 2017, c0 : 1528, step : 184, top : 2043, zero : 2451, max : 200, interval : 50,
    means : b2Means, tops : b2Tops, stars : b2Stars, hash : b2Hash, titleSize : 33, titleX : 1285, titleY : 2234,
    title : '{n|CD3}{p|+}{n|CD4}{p|+}{n|IL-4}{p|+}{n| T ( % )}' });

addDotPlot({ l : 263, r : 513, t : 114, b : 362, x2 : 297, dx : 63.3, y1 : 357, dy : 54.6, gateX : 2.9, gateY : 2.03, patchColor : '#d6d6d6',
    cells : aNormalCells, dots : aNormalDots, fill : aNormalFill, quad : aNormalQuad, nx : 388, ny : 418, ax : 212, ay : 235 });
addDotPlot({ l : 258, r : 515, t : 518, b : 776, x2 : 291, dx : 62.3, y1 : 770, dy : 56.7, gateX : 2.96, gateY : 2.06, patchColor : '#c8c8c8',
    cells : aModelCells, dots : aModelDots, fill : aModelFill, quad : aModelQuad, nx : 377, ny : 835, ax : 203, ay : 639 });
addDotPlot({ l : 249, r : 519, t : 890, b : 1159, x2 : 283, dx : 65, y1 : 1154, dy : 59, gateX : 2.97, gateY : 2.05, patchColor : '#c8c8c8',
    cells : aEmodinCells, dots : aEmodinDots, fill : aEmodinFill, quad : aEmodinQuad, nx : 384, ny : 1219, ax : 191, ay : 1021 });
addDotPlot({ l : 248, r : 516, t : 1464, b : 1732, x2 : 282, dx : 64.7, y1 : 1727, dy : 59.4, gateX : 2.75, gateY : 2.02, patchColor : '#f4f4f4',
    cells : bNormalCells, dots : bNormalDots, fill : bNormalFill, quad : bNormalQuad, nx : 379, ny : 1793, ax : 194, ay : 1597 });
addDotPlot({ l : 247, r : 516, t : 1820, b : 2090, x2 : 281, dx : 64.5, y1 : 2085, dy : 59, gateX : 2.74, gateY : 2.02, patchColor : '#e6e6e6',
    cells : bModelCells, dots : bModelDots, fill : bModelFill, quad : bModelQuad, nx : 375, ny : 2150, ax : 191, ay : 1947 });
addDotPlot({ l : 246, r : 520, t : 2203, b : 2478, x2 : 282, dx : 65.4, y1 : 2472, dy : 60.2, gateX : 2.72, gateY : 2.01, patchColor : '#e6e6e6',
    cells : bEmodinCells, dots : bEmodinDots, fill : bEmodinFill, quad : bEmodinQuad, nx : 383, ny : 2537, ax : 193, ay : 2337 });

addHist({ l : 587, r : 829, t : 104, b : 345, xMin : .46, xMax : 5.47, firstDecade : 1, lastDecade : 5, yMax : 37.4, yStep : 10, data : aNormalIfn, xName : 'PE-Cy7-A', nx : 712, ny : 397, cx : 545, cy : 225 });
addHist({ l : 897, r : 1139, t : 104, b : 344, xMin : .25, xMax : 5.59, firstDecade : 1, lastDecade : 5, yMax : 35, yStep : 10, data : aNormalIl, xName : 'APC-Cy7-A', nx : 1022, ny : 391, cx : 856, cy : 223 });
addHist({ l : 598, r : 828, t : 514, b : 742, xMin : .37, xMax : 5.75, firstDecade : 1, lastDecade : 5, yMax : 32.5, yStep : 10, data : aModelIfn, xName : 'PE-Cy7-A', nx : 713, ny : 791, cx : 549, cy : 630 });
addHist({ l : 907, r : 1136, t : 514, b : 742, xMin : .42, xMax : 5.77, firstDecade : 1, lastDecade : 5, yMax : 57.7, yStep : 10, data : aModelIl, xName : 'APC-Cy7-A', nx : 1022, ny : 792, cx : 865, cy : 630 });
addHist({ l : 597, r : 828, t : 898, b : 1127, xMin : .37, xMax : 5.74, firstDecade : 1, lastDecade : 5, yMax : 36.4, yStep : 10, data : aEmodinIfn, xName : 'PE-Cy7-A', nx : 716, ny : 1180, cx : 557, cy : 1014 });
addHist({ l : 901, r : 1134, t : 897, b : 1129, xMin : .38, xMax : 5.78, firstDecade : 1, lastDecade : 5, yMax : 54.8, yStep : 10, data : aEmodinIl, xName : 'APC-Cy7-A', nx : 1020, ny : 1183, cx : 862, cy : 1014 });
addHist({ l : 586, r : 836, t : 1465, b : 1714, xMin : .38, xMax : 8.14, firstDecade : 1, lastDecade : 7, yMax : 189, yStep : 50, data : bNormalIfn, xName : 'PE-Cy7-A', nx : 717, ny : 1765, cx : 539, cy : 1588 });
addHist({ l : 909, r : 1153, t : 1469, b : 1712, xMin : .39, xMax : 5.76, firstDecade : 1, lastDecade : 5, yMax : 40.7, yStep : 10, data : bNormalIl, xName : 'APC-Cy7-A', nx : 1033, ny : 1761, cx : 862, cy : 1591 });
addHist({ l : 604, r : 833, t : 1857, b : 2085, xMin : .37, xMax : 5.72, firstDecade : 1, lastDecade : 5, yMax : 27.5, yStep : 5, data : bModelIfn, xName : 'PE-Cy7-A', nx : 719, ny : 2134, cx : 556, cy : 1953 });
addHist({ l : 918, r : 1148, t : 1863, b : 2092, xMin : .37, xMax : 5.75, firstDecade : 1, lastDecade : 5, yMax : 77, yStep : 20, data : bModelIl, xName : 'APC-Cy7-A', nx : 1032, ny : 2135, cx : 878, cy : 1953 });
addHist({ l : 617, r : 849, t : 2219, b : 2452, xMin : .4, xMax : 5.76, firstDecade : 1, lastDecade : 5, yMax : 29.5, yStep : 5, data : bEmodinIfn, xName : 'PE-Cy7-A', nx : 733, ny : 2504, cx : 572, cy : 2335 });
addHist({ l : 913, r : 1144, t : 2222, b : 2452, xMin : .38, xMax : 5.7, firstDecade : 1, lastDecade : 5, yMax : 47.3, yStep : 10, data : bEmodinIl, xName : 'APC-Cy7-A', nx : 1032, ny : 2503, cx : 870, cy : 2335 });

addTable({ l : 587, c1 : 633, c2 : 781, c3 : 810, r : 843, t : 412, hb : 450, b : 470, head : 'PE-C', name : 'PerCP-Cy5-5-A, APC-A su...', mean : '668', cv : '64.8' });
addTable({ l : 911, c1 : 957, c2 : 1096, c3 : 1128, r : 1159, t : 412, hb : 450, b : 470, head : 'APC-', name : 'PerCP-Cy5-5-A, APC-A s...', mean : '39.6', cv : '63.2' });
addTable({ l : 601, c1 : 645, c2 : 779, c3 : 809, r : 842, t : 806, hb : 840, b : 860, head : 'PE-C', name : 'PerCP-Cy5-5-A, APC-A s...', mean : '2812', cv : '34.5' });
addTable({ l : 903, c1 : 947, c2 : 1081, c3 : 1110, r : 1140, t : 806, hb : 840, b : 860, head : 'APC-', name : 'PerCP-Cy5-5-A, APC-A s...', mean : '77.9', cv : '63.6' });
addTable({ l : 601, c1 : 645, c2 : 774, c3 : 810, r : 836, t : 1195, hb : 1229, b : 1245, head : 'PE-C', name : 'PerCP-Cy5-5-A, APC-A ...', mean : '1936', cv : '51.4' });
addTable({ l : 903, c1 : 947, c2 : 1083, c3 : 1111, r : 1140, t : 1195, hb : 1229, b : 1248, head : 'APC-', name : 'PerCP-Cy5-5-A, APC-A s...', mean : '48.0', cv : '58.9' });
addTable({ l : 588, c1 : 635, c2 : 782, c3 : 811, r : 843, t : 1779, hb : 1815, b : 1837, head : 'PE-C', name : 'PerCP-Cy5-5-A, FITC-A s...', mean : '1180', cv : '97.6' });
addTable({ l : 911, c1 : 957, c2 : 1100, c3 : 1131, r : 1162, t : 1779, hb : 1815, b : 1837, head : 'APC-', name : 'PerCP-Cy5-5-A, FITC-A s...', mean : '99.0', cv : '64.5' });
addTable({ l : 604, c1 : 648, c2 : 783, c3 : 815, r : 844, t : 2150, hb : 2185, b : 2203, head : 'PE-C', name : 'PerCP-Cy5-5-A, FITC-A s...', mean : '2231', cv : '54.6' });
addTable({ l : 914, c1 : 958, c2 : 1093, c3 : 1120, r : 1148, t : 2151, hb : 2186, b : 2206, head : 'PE-C', name : 'PerCP-Cy5-5-A, FITC-A s...', mean : '149', cv : '74.1' });
addTable({ l : 618, c1 : 663, c2 : 800, c3 : 832, r : 862, t : 2520, hb : 2555, b : 2574, head : 'PE-C', name : 'PerCP-Cy5-5-A, FITC-A s...', mean : '2174', cv : '55.6' });
addTable({ l : 916, c1 : 960, c2 : 1094, c3 : 1121, r : 1148, t : 2519, hb : 2555, b : 2574, head : 'APC', name : 'PerCP-Cy5-5-A, FITC-A s...', mean : '117', cv : '575' });

// panel letters, column and row headings
gfx.push(text(32, 45, 'A', 60));
gfx.push(text(33, 1396, 'B', 60));
gfx.push(text(384, 79, 'CD3-CD4', 34));
gfx.push(text(706, 79, 'IFN-γ', 34));
gfx.push(text(1000, 79, 'IL-4', 34));
gfx.push(text(398, 1436, 'CD3-CD4', 34));
gfx.push(text(722, 1436, 'IFN-γ', 34));
gfx.push(text(1032, 1436, 'IL-4', 34));
gfx.push(text(117, 224, 'Normal', 33));
gfx.push(text(127, 644, 'Model', 33));
gfx.push(text(113, 1012, 'Emodin', 33));
gfx.push(text(118, 1601, 'Normal', 33));
gfx.push(text(128, 1953, 'Model', 33));
gfx.push(text(114, 2309, 'Emodin', 33));

var chart = echarts.init(document.getElementById('main'));
chart.setOption({
    animation : false,
    backgroundColor : '#fff',
    textStyle : { fontFamily : FONT },
    grid : grids,
    xAxis : xAxes,
    yAxis : yAxes,
    series : series,
    graphic : { elements : gfx }
});
</script>
</body>
</html>
